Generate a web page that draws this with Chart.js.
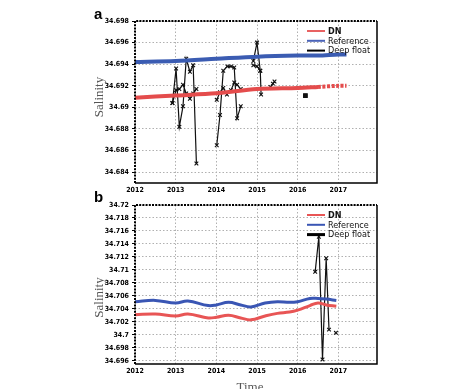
<!DOCTYPE html>
<html>
<head>
<meta charset="utf-8">
<script src="https://cdn.jsdelivr.net/npm/chart.js@4/dist/chart.umd.min.js"></script>
<style>
html, body { margin: 0; padding: 0; background: #fff; }
#wrap { position: relative; width: 474px; height: 389px; overflow: hidden; }
canvas { position: absolute; left: 0; }
#chartA { top: 0; }
#chartB { top: 186px; }
</style>
</head>
<body>
<div id="wrap">
  <canvas id="chartA" width="474" height="195"></canvas>
  <canvas id="chartB" width="474" height="203"></canvas>
</div>
<script>
// shared
const yearTicks = [2012, 2013, 2014, 2015, 2016, 2017];

// panel a
const yTicksA = [34.684, 34.686, 34.688, 34.69, 34.692, 34.694, 34.696, 34.698];
const lineYearsA = [2012, 2013, 2014, 2015, 2016, 2016.5, 2017, 2017.2];
const dnA  = [34.6909, 34.6911, 34.6913, 34.6917, 34.6918, 34.6919, 34.6920, 34.6920];
const refA = [34.6942, 34.6943, 34.6945, 34.6947, 34.6948, 34.6948, 34.6949, 34.6949];
const floatYearsA = [
  2012.92, 2013.01, 2013.09, 2013.18, 2013.26, 2013.35, 2013.43, 2013.51, null,
  2012.92, 2013.01, 2013.09, 2013.18, 2013.26, 2013.35, 2013.43, 2013.51, null,
  2014.01, 2014.09, 2014.17, 2014.27, 2014.36, 2014.44, 2014.51, 2014.60, null,
  2014.01, 2014.09, 2014.17, 2014.26, 2014.36, 2014.44, 2014.51, 2014.60, null,
  2014.91, 2015.00, 2015.08, 2015.10, null,
  2014.91, 2015.00, 2015.08, null,
  2015.33, 2015.39, 2015.43, null,
  2016.19
];
const floatA = [
  34.6904, 34.6936, 34.6882, 34.6901, 34.6945, 34.6933, 34.6939, 34.6848, null,
  34.6904, 34.6916, 34.6917, 34.6921, 34.6913, 34.6908, 34.6913, 34.6917, null,
  34.6865, 34.6893, 34.6934, 34.6938, 34.6938, 34.6937, 34.6890, 34.6901, null,
  34.6907, 34.6914, 34.6918, 34.6912, 34.6916, 34.6923, 34.6921, 34.6917, null,
  34.6943, 34.6960, 34.6934, 34.6912, null,
  34.6939, 34.6938, 34.6934, null,
  34.6919, 34.6922, 34.6924, null,
  34.6911
];

// panel b
const yTicksB = [34.696, 34.698, 34.7, 34.702, 34.704, 34.706, 34.708, 34.71, 34.712, 34.714, 34.716, 34.718, 34.72];
const lineYearsB = [2012, 2012.5, 2013, 2013.3, 2013.8, 2014, 2014.3, 2014.6, 2014.85, 2015.2, 2015.5, 2015.8, 2016, 2016.3, 2016.5, 2016.7, 2016.95];
const dnB  = [34.7031, 34.7032, 34.7029, 34.7032, 34.7026, 34.7027, 34.7030, 34.7026, 34.7023, 34.7029, 34.7033, 34.7035, 34.7038, 34.7045, 34.7049, 34.7046, 34.7044];
const refB = [34.7051, 34.7053, 34.7049, 34.7052, 34.7045, 34.7046, 34.7050, 34.7046, 34.7043, 34.7049, 34.7051, 34.7050, 34.7051, 34.7056, 34.7056, 34.7055, 34.7053];
const floatYearsB = [2016.43, 2016.52, 2016.61, 2016.70, 2016.77, null, 2016.94];
const floatB = [34.7097, 34.7151, 34.6962, 34.7118, 34.7008, null, 34.7003];

const seriesNames = ['DN', 'Reference', 'Deep float'];

const tickFont = { family: '"Liberation Sans Narrow", "DejaVu Sans Condensed", sans-serif', size: 7, weight: 'bold' };

function pts(xs, ys) {
  return xs.map(function (x, i) { return { x: x, y: ys[i] }; });
}

const decorations = {
  id: 'decorations',
  afterDatasetsDraw: function (chart, args, o) {
    const ctx = chart.ctx, a = chart.chartArea;
    ctx.save();
    // frame: solid right/bottom, dashed left/top
    ctx.strokeStyle = '#000';
    ctx.lineWidth = 1.5;
    ctx.beginPath();
    ctx.moveTo(a.right, a.top); ctx.lineTo(a.right, a.bottom); ctx.lineTo(a.left, a.bottom);
    ctx.stroke();
    ctx.setLineDash([2, 1.2]);
    ctx.lineWidth = 2;
    ctx.beginPath();
    ctx.moveTo(a.left, a.bottom); ctx.lineTo(a.left, a.top); ctx.lineTo(a.right, a.top);
    ctx.stroke();
    ctx.setLineDash([]);

    // legend
    ctx.textBaseline = 'middle';
    ctx.textAlign = 'left';
    o.legend.forEach(function (item, i) {
      const y = a.top + 10 + i * 9.8;
      ctx.strokeStyle = item.color;
      ctx.lineWidth = item.width;
      ctx.beginPath();
      ctx.moveTo(a.right - 70, y); ctx.lineTo(a.right - 52, y);
      ctx.stroke();
      ctx.fillStyle = '#111';
      ctx.font = (i === 0 ? 'bold ' : '') + '9px "Liberation Sans Narrow", "DejaVu Sans Condensed", sans-serif';
      ctx.fillText(item.text, a.right - 49, y + 0.5);
    });

    // panel letter
    ctx.fillStyle = '#000';
    ctx.font = 'bold 15px "Liberation Sans", Arial, sans-serif';
    ctx.textBaseline = 'alphabetic';
    ctx.fillText(o.letter, 94, o.letterY);

    // y title
    ctx.save();
    ctx.translate(100, (a.top + a.bottom) / 2 + o.yTitleShift);
    ctx.rotate(-Math.PI / 2);
    ctx.textAlign = 'center';
    ctx.textBaseline = 'middle';
    ctx.fillStyle = '#555';
    ctx.font = '13px "Liberation Serif", "DejaVu Serif", serif';
    ctx.fillText('Salinity', 0, 0);
    ctx.restore();

    // x title
    if (o.xTitle) {
      ctx.textAlign = 'center';
      ctx.fillStyle = '#555';
      ctx.font = '13px "Liberation Serif", "DejaVu Serif", serif';
      ctx.fillText(o.xTitle, 250, o.xTitleY);
    }
    ctx.restore();
  }
};

function makeChart(id, cfg) {
  return new Chart(document.getElementById(id), {
    type: 'line',
    data: {
      datasets: [
        {
          label: seriesNames[0],
          data: cfg.dn,
          borderColor: cfg.red,
          borderWidth: cfg.bandWidth,
          pointRadius: 0,
          tension: cfg.tension,
          segment: cfg.dnSegment
        },
        {
          label: seriesNames[1],
          data: cfg.ref,
          borderColor: cfg.blue,
          borderWidth: cfg.bandWidth,
          pointRadius: 0,
          tension: cfg.tension
        },
        {
          label: seriesNames[2],
          data: cfg.float,
          borderColor: '#111',
          borderWidth: 1.2,
          pointStyle: cfg.floatStyle,
          pointRadius: 2.6,
          pointBorderWidth: 1.1,
          pointBorderColor: '#111',
          pointBackgroundColor: '#111',
          spanGaps: false,
          tension: 0
        }
      ]
    },
    options: {
      responsive: false,
      animation: false,
      devicePixelRatio: 1,
      layout: { padding: cfg.padding },
      plugins: {
        legend: { display: false },
        tooltip: { enabled: false },
        decorations: cfg.deco
      },
      scales: {
        x: {
          type: 'linear',
          min: 2012,
          max: 2017.95,
          afterBuildTicks: function (s) { s.ticks = yearTicks.map(function (v) { return { value: v }; }); },
          afterFit: function (s) { s.height = 12; },
          border: { display: false, dash: [1.5, 2] },
          grid: { color: '#b0b0b0', lineWidth: 1, drawTicks: false },
          ticks: { color: '#000', font: tickFont, padding: 3, maxRotation: 0, callback: function (v) { return String(v); } }
        },
        y: {
          min: cfg.yMin,
          max: cfg.yMax,
          afterBuildTicks: function (s) { s.ticks = cfg.yTicks.map(function (v) { return { value: v }; }); },
          afterFit: function (s) { s.width = 40; },
          border: { display: false, dash: [1.5, 2] },
          grid: { color: '#b0b0b0', lineWidth: 1, drawTicks: true, tickLength: 3, tickColor: '#000', tickBorderDash: [] },
          ticks: { color: '#000', font: tickFont, padding: 3, callback: function (v) { return String(+Number(v).toFixed(3)); } }
        }
      }
    },
    plugins: [decorations]
  });
}

makeChart('chartA', {
  dn: pts(lineYearsA, dnA),
  ref: pts(lineYearsA, refA),
  float: pts(floatYearsA, floatA),
  floatStyle: floatA.map(function (v, i) { return i === floatA.length - 1 ? 'rect' : 'crossRot'; }),
  red: '#e44c4c',
  blue: '#3b5cb2',
  bandWidth: 4,
  tension: 0.3,
  dnSegment: { borderDash: function (c) { return c.p0.parsed.x >= 2016.5 ? [3, 1.5] : undefined; } },
  yMin: 34.683,
  yMax: 34.698,
  yTicks: yTicksA,
  padding: { left: 95, right: 97, top: 21, bottom: 0 },
  deco: {
    letter: 'a', letterY: 18.5, yTitleShift: -5,
    legend: [
      { text: 'DN', color: '#e86262', width: 2 },
      { text: 'Reference', color: '#4a63b8', width: 2 },
      { text: 'Deep float', color: '#000', width: 2 }
    ]
  }
});

makeChart('chartB', {
  dn: pts(lineYearsB, dnB),
  ref: pts(lineYearsB, refB),
  float: pts(floatYearsB, floatB),
  floatStyle: 'crossRot',
  red: '#e85555',
  blue: '#3a56b4',
  bandWidth: 3,
  tension: 0.4,
  dnSegment: {},
  yMin: 34.6955,
  yMax: 34.72,
  yTicks: yTicksB,
  padding: { left: 95, right: 97, top: 19, bottom: 13 },
  deco: {
    letter: 'b', letterY: 16, yTitleShift: 13, xTitle: 'Time', xTitleY: 205,
    legend: [
      { text: 'DN', color: '#e85555', width: 2 },
      { text: 'Reference', color: '#3a56b4', width: 2 },
      { text: 'Deep float', color: '#000', width: 3 }
    ]
  }
});
</script>
</body>
</html>
